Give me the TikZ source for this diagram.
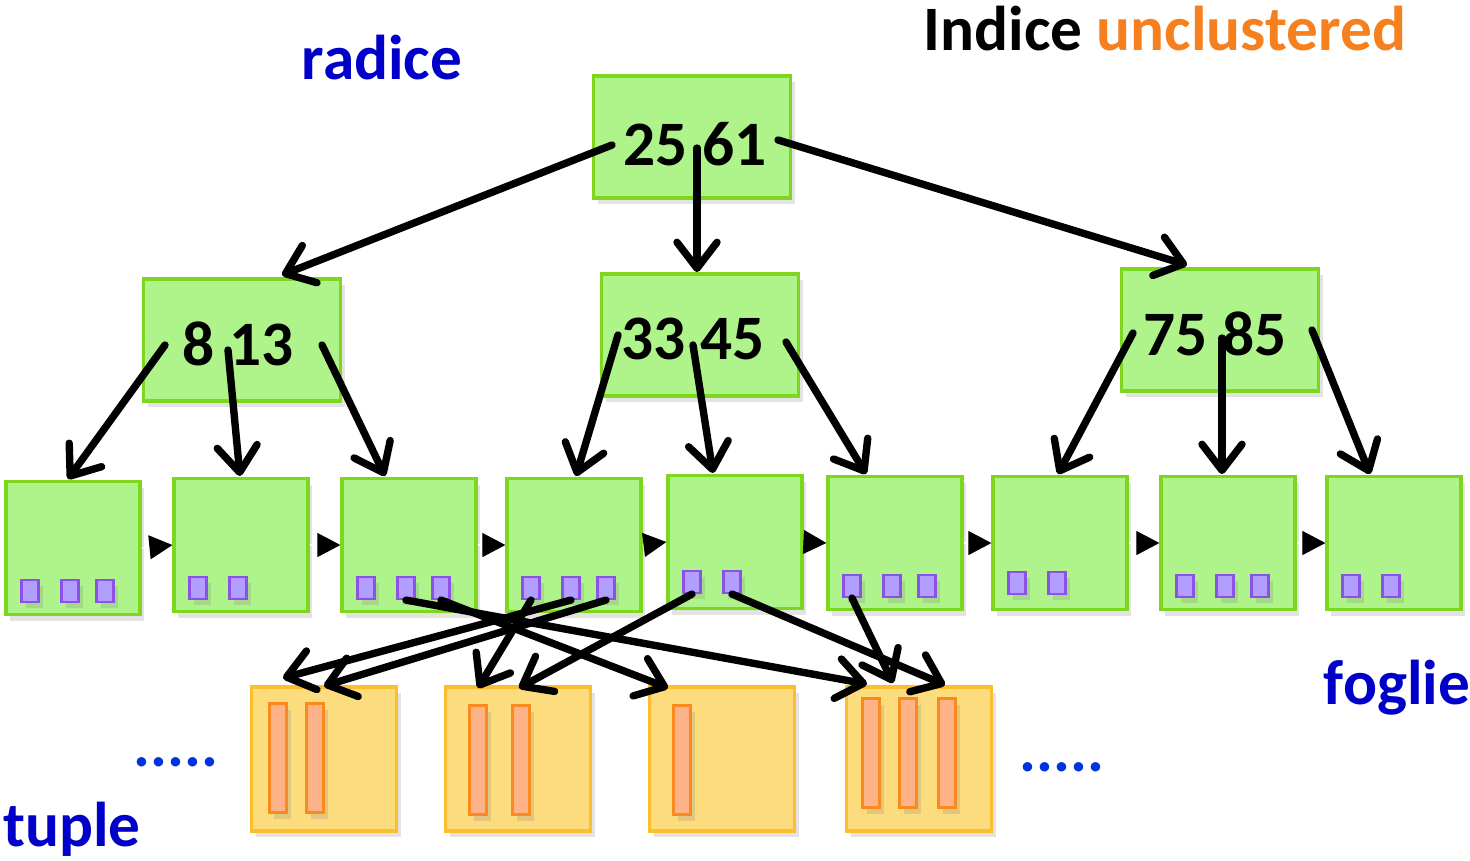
\documentclass[tikz,border=0pt]{standalone}
\usepackage{fontspec}
\setmainfont{Carlito}
\usepackage{tikz}
\usetikzlibrary{arrows.meta}
\usetikzlibrary{shadows}
\usepackage{xcolor}

\begin{document}
\begin{tikzpicture}[x=0.01cm, y=-0.01cm]

    % style
    \tikzset{font=\fontsize{18}{21}\selectfont\bfseries};
    \definecolor{mygreen}{RGB}{174, 244, 138}
    \definecolor{mygreenline}{RGB}{126, 214, 30}
    \definecolor{mypurple}{RGB}{178, 158, 255}
    \definecolor{mypurpleline}{RGB}{140, 82, 232}
    \definecolor{myyellow}{RGB}{253, 220, 125}
    \definecolor{myyellowline}{RGB}{252, 190, 45}
    \definecolor{mysalmon}{RGB}{253, 178, 135}
    \definecolor{myorange}{RGB}{250, 138, 30}
    \definecolor{myblue}{RGB}{0, 0, 200}
    \definecolor{mydots}{RGB}{0, 51, 221}
    \definecolor{mytitle}{RGB}{247, 128, 30}
    \tikzset{
        cellbox/.style={rectangle, inner sep=0pt, line width=0.9pt, drop shadow={shadow xshift=1.2pt, shadow yshift=-1.8pt, opacity=0.22}},
        innernode/.style={cellbox, fill=mygreen, draw=mygreenline, minimum width=1.97cm, minimum height=1.22cm},
        leaf/.style={cellbox, fill=mygreen, draw=mygreenline, minimum width=1.34cm, minimum height=1.33cm},
        pointer/.style={cellbox, fill=mypurple, draw=mypurpleline, line width=0.6pt, minimum width=0.17cm, minimum height=0.22cm},
        tuplepage/.style={cellbox, fill=myyellow, draw=myyellowline, minimum width=1.45cm, minimum height=1.44cm},
        tuplebar/.style={cellbox, fill=mysalmon, draw=myorange, line width=0.6pt, minimum width=0.17cm, minimum height=1.09cm},
        keytext/.style={text=black, inner sep=0pt},
        labeltext/.style={text=myblue, inner sep=0pt},
        dotstext/.style={text=mydots, inner sep=0pt},
        arrowptr/.style={line width=2.1pt, line cap=round, -{Straight Barb[length=0.26cm, width=0.4cm, round]}},
        nextptr/.style={draw=white, line width=0.3pt, -{Triangle[length=0.23cm, width=0.24cm, color=black]}}
    }

    % fixed frame of the figure
    \useasboundingbox (0,0) rectangle (1470,860);

    % root node
    \node [innernode] (Root) at (692,137) {};
    \node [keytext] (RootKeys) at ([shift={(3,7)}]Root.center) {25 61};

    % inner nodes
    \foreach \name/\x/\y/\keys/\dx in {InnerLeft/242/340/8 13/-4, InnerMid/700/335/33 45/-7, InnerRight/1220/330/75 85/-5}
    {
        \node [innernode] (\name) at (\x,\y) {};
        \node [keytext] (\name Keys) at ([shift={(\dx,4)}]\name.center) {\keys};
    }

    % leaf nodes with their record pointers
    \foreach \i/\x/\y/\dy/\xs in {1/73/548/43/{-43,-3,32}, 2/241/545/43/{-43,-3}, 3/409/545/43/{-43,-3,32}, 4/574/545/43/{-43,-3,32}, 5/735/542/40/{-43,-3}, 6/895/543/43/{-43,-3,32}, 7/1060/543/40/{-43,-3}, 8/1228/543/43/{-43,-3,32}, 9/1394/543/43/{-43,-3}}
    {
        \node [leaf] (Leaf\i) at (\x,\y) {};
        \foreach \dx [count=\k] in \xs
            \node [pointer] (Leaf\i-\k) at ([shift={(\dx,\dy)}]Leaf\i.center) {};
    }

    % next-leaf links
    \foreach \i [evaluate=\i as \j using int(\i+1)] in {1,...,8}
        \draw [nextptr] (Leaf\i.east) -- (Leaf\j.west);

    % tuple pages
    \foreach \i/\x/\dy/\xs in {1/324/-1/{-46,-9}, 2/518/1/{-40,3}, 3/722/1/{-40}, 4/919/-6/{-48,-11,28}}
    {
        \node [tuplepage] (Page\i) at (\x,759) {};
        \foreach \dx [count=\k] in \xs
            \node [tuplebar] (Page\i-\k) at ([shift={(\dx,\dy)}]Page\i.center) {};
    }

    % root to inner nodes
    \foreach \from/\sx/\sy/\to/\tx/\ty in {Root/-80/8/InnerLeft/40/-65, Root/5/11/InnerMid/-3/-63, Root/86/3/InnerRight/-33/-65}
        \draw [arrowptr] ([shift={(\sx,\sy)}]\from.center) -- ([shift={(\tx,\ty)}]\to.center);

    % inner nodes to leaves
    \foreach \from/\sx/\sy/\to/\tx in {InnerLeft/-77/5/Leaf1/-5, InnerLeft/-14/10/Leaf2/-1, InnerLeft/80/5/Leaf3/-24, InnerMid/-82/0/Leaf4/2, InnerMid/-7/10/Leaf5/-22, InnerMid/86/7/Leaf6/-29, InnerRight/-87/3/Leaf7/-2, InnerRight/2/8/Leaf8/-6, InnerRight/92/0/Leaf9/-24}
        \draw [arrowptr] ([shift={(\sx,\sy)}]\from.center) -- ([shift={(\tx,-69)}]\to.center);

    % record pointers to tuple pages (unclustered: they cross)
    \foreach \from/\to/\tx/\ty in {Leaf3-2/Page4/-52/-75, Leaf3-3/Page3/-54/-71, Leaf4-1/Page2/-40/-71, Leaf4-2/Page1/-41/-81, Leaf4-3/Page1/0/-73, Leaf5-1/Page2/1/-71, Leaf5-2/Page4/26/-74, Leaf6-1/Page4/-26/-76}
        \draw [arrowptr] (\from.south) -- ([shift={(\tx,\ty)}]\to.center);

    % labels
    \node [labeltext] (RootLabel) at (382,58) {radice};
    \node [keytext] (Title) at (1165,29) {Indice \textcolor{mytitle}{unclustered}};
    \node [labeltext] (LeafLabel) at (1397,688) {foglie};
    \node [labeltext] (TupleLabel) at (72,829) {tuple};
    \node [dotstext] (DotsLeft) at (176,762) {.....};
    \node [dotstext] (DotsRight) at (1062,767) {.....};

\end{tikzpicture}
\end{document}
